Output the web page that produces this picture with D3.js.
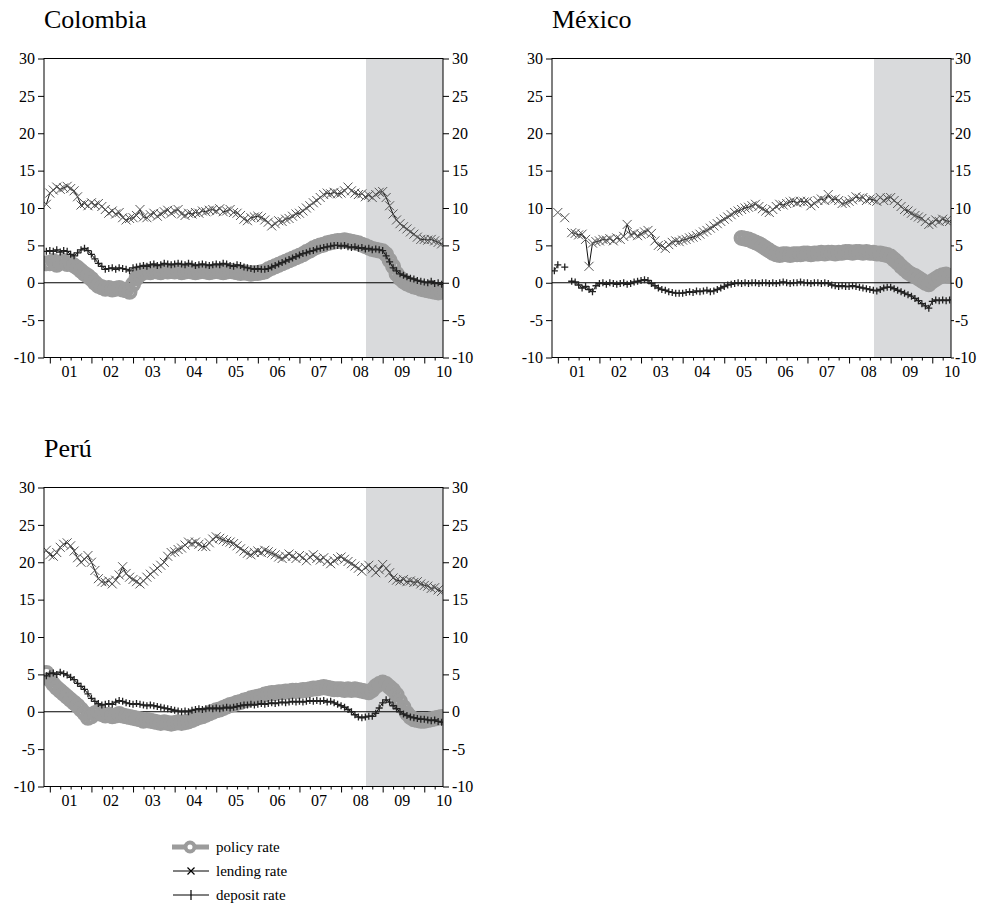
<!DOCTYPE html>
<html>
<head>
<meta charset="utf-8">
<script src="https://cdn.jsdelivr.net/npm/d3@7"></script>
<style>
  body { margin: 0; background: #fff; }
  text { font-family: "Liberation Serif", "Times New Roman", serif; fill: #000; }
</style>
</head>
<body>
<svg id="chart" width="995" height="906"></svg>
<script>
// Monthly observations, December 2000 to June 2010 (115 months), in percent.
const firstMonth = { year: 2000, month: 11 }; // December 2000 (0-based month)

const yearTicks = [2001, 2002, 2003, 2004, 2005, 2006, 2007, 2008, 2009, 2010];
const yearLabels = ["01", "02", "03", "04", "05", "06", "07", "08", "09", "10"];
const yTicks = [30, 25, 20, 15, 10, 5, 0, -5, -10];
const crisisStart = 2008.6;

// Colombia
const colombiaPolicy = [2.6,
  2.6, 2.9, 2.4, 2.7, 2.9, 2.5, 2.6, 2.3, 2.0, 1.6, 1.2, 0.9,
  0.5, 0.0, -0.4, -0.6, -0.8, -0.7, -0.9, -0.8, -0.7, -0.9, -1.0, -1.2,
  -0.2, 0.6, 1.1, 1.4, 1.5, 1.4, 1.6, 1.5, 1.4, 1.6, 1.5, 1.6,
  1.5, 1.6, 1.4, 1.5, 1.6, 1.5, 1.4, 1.5, 1.6, 1.5, 1.4, 1.5,
  1.6, 1.5, 1.4, 1.5, 1.6, 1.5, 1.4, 1.3, 1.4, 1.3, 1.2, 1.3,
  1.3, 1.4, 1.5, 1.8, 2.0, 2.2, 2.4, 2.6, 2.8, 3.0, 3.2, 3.4,
  3.6, 3.8, 4.1, 4.3, 4.6, 4.8, 5.0, 5.1, 5.3, 5.4, 5.5, 5.6,
  5.6, 5.7, 5.6, 5.5, 5.4, 5.3, 5.1, 4.9, 4.7, 4.5, 4.4, 4.3,
  4.2, 3.8, 3.0, 2.2, 1.2, 0.6, 0.2, -0.1, -0.3, -0.5, -0.6, -0.8,
  -0.9, -1.0, -1.1, -1.2, -1.3, -1.2];
const colombiaLending = [10.5,
  12.0, 12.4, 12.8, 12.5, 12.7, 12.9, 12.6, 12.3, 11.5, 10.4, 10.6, 10.3,
  10.7, 10.4, 10.6, 10.2, 9.8, 9.3, 9.6, 9.2, 9.4, 8.7, 8.4, 8.6,
  8.7, 9.0, 9.8, 8.8, 8.7, 9.1, 9.3, 8.9, 9.2, 9.5, 9.7, 9.3,
  9.6, 9.8, 9.2, 9.0, 9.3, 9.2, 9.4, 9.3, 9.6, 9.5, 9.7, 9.8,
  9.6, 9.9, 9.5, 9.6, 9.8, 9.4, 9.3, 9.0, 8.5, 8.3, 8.7, 8.8,
  8.9, 8.7, 8.4, 8.1, 7.6, 7.9, 8.3, 8.2, 8.5, 8.6, 8.9, 9.2,
  9.3, 9.6, 10.0, 10.3, 10.7, 11.0, 11.4, 11.8, 12.0, 11.9, 12.1, 11.9,
  12.0, 12.3, 12.8, 12.3, 12.0, 11.8, 11.9, 11.5, 11.7, 11.4, 11.8, 12.1,
  12.2, 11.4, 10.3, 9.2, 8.4, 7.9, 7.5, 7.2, 6.8, 6.5, 6.1, 5.8,
  5.8, 5.7, 5.8, 5.6, 5.4, 5.2];
const colombiaDeposit = [4.2,
  4.3, 4.2, 4.4, 4.1, 4.3, 4.2, 3.8, 3.6, 4.0, 4.4, 4.6, 4.3,
  3.8, 3.2, 2.6, 2.2, 1.8, 1.9, 2.0, 1.8, 2.0, 1.9, 1.8, 1.6,
  2.0, 2.1, 2.2, 2.3, 2.2, 2.4, 2.5, 2.3, 2.4, 2.6, 2.5, 2.4,
  2.5, 2.6, 2.5, 2.4, 2.6, 2.5, 2.3, 2.4, 2.5, 2.4, 2.3, 2.4,
  2.5, 2.4, 2.6, 2.5, 2.3, 2.2, 2.4, 2.3, 2.1, 2.0, 1.9, 1.8,
  1.9, 1.8, 1.8, 1.9, 2.1, 2.3, 2.5, 2.7, 2.9, 3.1, 3.3, 3.5,
  3.7, 3.9, 4.0, 4.2, 4.3, 4.5, 4.6, 4.7, 4.8, 4.9, 5.0, 5.0,
  4.9, 5.0, 4.8, 4.7, 4.8, 4.6, 4.7, 4.5, 4.6, 4.4, 4.5, 4.4,
  4.3, 3.6, 2.8, 2.0, 1.6, 1.2, 1.0, 0.8, 0.6, 0.5, 0.3, 0.2,
  0.1, 0.0, 0.2, -0.1, 0.0, -0.2];

// México (gaps where no observation was published)
const mexicoPolicy = [null,
  null, null, null, null, null, null, null, null, null, null, null, null,
  null, null, null, null, null, null, null, null, null, null, null, null,
  null, null, null, null, null, null, null, null, null, null, null, null,
  null, null, null, null, null, null, null, null, null, null, null, null,
  null, null, null, null, null, 6.0, 5.9, 5.8, 5.6, 5.4, 5.2, 4.9,
  4.6, 4.3, 4.0, 3.8, 3.7, 3.8, 3.8, 3.7, 3.8, 3.8, 3.8, 3.9,
  3.9, 3.8, 3.9, 3.9, 4.0, 3.9, 4.0, 4.0, 3.9, 4.0, 4.0, 4.1,
  4.1, 4.0, 4.1, 4.1, 4.0, 4.1, 4.0, 4.0, 3.9, 3.9, 3.8, 3.7,
  3.5, 3.1, 2.7, 2.2, 1.8, 1.4, 1.1, 0.9, 0.6, 0.3, 0.0, -0.2,
  0.2, 0.5, 0.8, 1.0, 1.1, 0.9];
const mexicoLending = [null,
  9.4, null, 8.7, null, 6.7, 6.6, 6.4, 6.5, 5.8, 2.2, 5.3, 5.5,
  5.6, 5.8, 5.7, 5.9, 5.6, 6.0, 5.8, 6.2, 7.8, 6.4, 6.6, 6.3,
  6.5, 6.8, 7.0, 6.6, 5.6, 5.0, 4.9, 4.6, 5.1, 5.4, 5.6, 5.5,
  5.7, 5.8, 6.0, 6.1, 6.3, 6.5, 6.8, 7.0, 7.3, 7.6, 7.9, 8.2,
  8.5, 8.8, 9.1, 9.4, 9.6, 9.8, 10.0, 10.1, 10.3, 10.5, 10.2, 9.9,
  9.6, 9.4, 9.8, 10.2, 10.5, 10.4, 10.6, 10.8, 10.9, 10.7, 10.9, 10.8,
  10.9, 10.3, 10.6, 11.0, 11.2, 11.0, 11.8, 11.1, 11.2, 11.0, 10.6, 10.7,
  10.9, 11.1, 11.5, 11.3, 11.4, 11.0, 11.2, 11.1, 10.9, 11.4, 11.0, 11.3,
  11.4, 11.0, 10.6, 10.2, 9.8, 9.6, 9.3, 9.0, 8.8, 8.6, 8.2, 7.8,
  8.0, 8.4, 8.2, 8.5, 8.3, 8.2];
const mexicoDeposit = [1.6,
  2.4, null, 2.1, null, 0.2, 0.1, -0.3, -0.7, -0.5, -0.9, -1.2, -0.4,
  -0.1, 0.0, -0.2, 0.0, -0.1, -0.2, -0.1, 0.0, -0.2, -0.1, 0.1, 0.2,
  0.3, 0.4, 0.3, -0.1, -0.4, -0.7, -0.9, -1.0, -1.2, -1.3, -1.4, -1.4,
  -1.4, -1.3, -1.2, -1.3, -1.1, -1.2, -1.1, -1.0, -1.2, -1.1, -0.9, -0.7,
  -0.5, -0.3, -0.2, -0.1, 0.0, -0.1, 0.0, -0.1, 0.0, 0.0, -0.1, 0.0,
  0.0, -0.1, 0.0, -0.1, 0.0, 0.1, 0.0, -0.1, 0.0, 0.0, 0.1, 0.0,
  0.0, -0.1, 0.0, 0.0, -0.1, 0.0, -0.1, -0.3, -0.4, -0.5, -0.4, -0.5,
  -0.5, -0.4, -0.5, -0.6, -0.7, -0.8, -0.9, -1.0, -1.1, -0.9, -0.7, -0.6,
  -0.6, -0.8, -1.0, -1.2, -1.4, -1.6, -1.8, -2.1, -2.4, -2.8, -3.1, -3.4,
  -2.5, -2.3, -2.4, -2.3, -2.4, -2.3];

// Perú
const peruPolicy = [5.2,
  4.3, 3.7, 3.2, 2.8, 2.4, 2.0, 1.6, 1.2, 0.8, 0.3, -0.2, -0.8,
  -0.6, -0.2, 0.0, -0.3, -0.5, -0.4, -0.6, -0.5, -0.3, -0.5, -0.6, -0.7,
  -0.8, -0.9, -1.0, -1.2, -1.1, -1.2, -1.3, -1.4, -1.5, -1.4, -1.5, -1.6,
  -1.5, -1.4, -1.5, -1.4, -1.3, -1.1, -0.9, -0.7, -0.6, -0.4, -0.2, 0.0,
  0.2, 0.3, 0.5, 0.7, 0.9, 1.0, 1.2, 1.3, 1.5, 1.6, 1.8, 1.9,
  2.0, 2.1, 2.3, 2.4, 2.5, 2.5, 2.6, 2.6, 2.7, 2.7, 2.8, 2.8,
  2.8, 2.9, 2.9, 3.0, 3.1, 3.1, 3.2, 3.3, 3.2, 3.1, 3.0, 3.0,
  3.0, 2.9, 3.0, 2.9, 3.0, 2.9, 2.8, 2.7, 2.6, 2.9, 3.4, 3.7,
  3.9, 3.7, 3.3, 2.9, 2.3, 1.4, 0.6, -0.2, -0.7, -1.0, -1.1, -1.2,
  -1.2, -1.1, -1.0, -0.9, -0.8, -0.7];
const peruLending = [21.6,
  21.0, 20.8, 21.3, 22.0, 22.4, 22.6, 22.2, 21.5, 20.6, 20.0, 20.4, 20.9,
  20.0, 18.9, 17.8, 17.4, 17.3, 17.5, 17.1, 17.6, 18.3, 19.4, 18.5, 18.0,
  17.7, 17.4, 17.1, 17.5, 18.0, 18.4, 18.8, 19.2, 19.6, 20.0, 20.8, 21.3,
  21.4, 21.7, 21.9, 22.3, 22.7, 22.5, 22.7, 22.4, 22.1, 22.1, 22.6, 23.1,
  23.4, 23.2, 23.0, 22.8, 22.7, 22.5, 22.2, 21.8, 21.5, 21.2, 21.0, 21.3,
  21.5, 21.3, 21.6, 21.4, 21.2, 21.0, 20.7, 20.5, 20.8, 21.1, 20.8, 20.5,
  20.9, 20.6, 20.2, 20.7, 21.0, 20.5, 20.3, 20.6, 20.1, 19.8, 20.2, 20.5,
  20.7, 20.4, 20.1, 19.8, 19.5, 19.2, 18.8, 19.3, 19.6, 19.1, 18.6, 19.0,
  19.7, 19.2, 18.6, 17.9, 17.6, 17.5, 17.7, 17.4, 17.5, 17.3, 17.4, 17.1,
  16.9, 16.8, 16.5, 16.6, 16.3, 16.1];
const peruDeposit = [4.8,
  5.1, 5.2, 5.0, 5.3, 5.1, 4.9, 4.6, 4.3, 3.8, 3.4, 3.0, 2.4,
  1.8, 1.4, 1.1, 0.9, 1.0, 1.1, 1.0, 1.3, 1.5, 1.4, 1.2, 1.1,
  1.0, 1.1, 1.0, 0.9, 0.8, 0.9, 0.8, 0.7, 0.6, 0.5, 0.4, 0.3,
  0.2, 0.1, 0.0, 0.1, 0.0, 0.2, 0.3, 0.4, 0.3, 0.4, 0.5, 0.4,
  0.5, 0.4, 0.5, 0.6, 0.5, 0.6, 0.7, 0.8, 0.9, 0.9, 1.0, 0.9,
  1.0, 1.1, 1.0, 1.1, 1.2, 1.1, 1.2, 1.3, 1.2, 1.3, 1.4, 1.3,
  1.4, 1.3, 1.4, 1.5, 1.4, 1.5, 1.4, 1.5, 1.3, 1.4, 1.2, 1.0,
  0.8, 0.6, 0.3, 0.0, -0.4, -0.7, -0.8, -0.7, -0.6, -0.6, -0.2, 0.5,
  1.2, 1.6, 1.3, 0.8, 0.4, 0.0, -0.3, -0.5, -0.7, -0.8, -0.9, -1.0,
  -1.0, -1.1, -1.2, -1.1, -1.3, -1.4];

const seriesNames = ["policy rate", "lending rate", "deposit rate"];

// ---------------------------------------------------------------------------
const SERIF = '"Liberation Serif", "Times New Roman", serif';
const svg = d3.select("#chart");
const panelW = 399, panelH = 299;
const POLICY_GREY = "#9c9c9c";

const x = d3.scaleLinear().domain([2000.86, 2010.45]).range([0, panelW]);
const y = d3.scaleLinear().domain([-10, 30]).range([panelH, 0]);

const toSeries = vals => vals.map((v, i) => ({
  t: firstMonth.year + (firstMonth.month + i) / 12,
  v
}));

const panels = [
  { id: "col", name: "Colombia", left: 44,  top: 58.5,
    policy: colombiaPolicy, lending: colombiaLending, deposit: colombiaDeposit,
    rightTick: 6, rightPad: 3 },
  { id: "mex", name: "México",   left: 552, top: 58.5,
    policy: mexicoPolicy, lending: mexicoLending, deposit: mexicoDeposit,
    rightTick: 3, rightPad: 1 },
  { id: "per", name: "Perú",     left: 44,  top: 487.5,
    policy: peruPolicy, lending: peruLending, deposit: peruDeposit,
    rightTick: 6, rightPad: 3 }
];

const line = d3.line()
  .defined(d => d.v !== null)
  .x(d => x(d.t))
  .y(d => y(d.v));

const defs = svg.append("defs");

panels.forEach(p => {
  const g = svg.append("g").attr("transform", `translate(${p.left},${p.top})`);

  // title
  g.append("text")
    .attr("x", 0).attr("y", -30.5)
    .attr("font-family", SERIF)
    .style("font-size", "26px")
    .text(p.name);

  defs.append("clipPath").attr("id", `clip-${p.id}`)
    .append("rect").attr("width", panelW).attr("height", panelH);

  const plot = g.append("g").attr("clip-path", `url(#clip-${p.id})`);

  // shaded period from the 2008 crisis onward
  plot.append("rect")
    .attr("x", x(crisisStart)).attr("y", 0)
    .attr("width", x.range()[1] - x(crisisStart)).attr("height", panelH)
    .attr("fill", "#d9dadc");

  // zero reference line
  plot.append("line")
    .attr("x1", 0).attr("x2", panelW)
    .attr("y1", y(0)).attr("y2", y(0))
    .attr("stroke", "#000").attr("stroke-width", 1);

  // policy rate: thick grey line with open circles
  const pol = toSeries(p.policy);
  plot.append("path").datum(pol)
    .attr("d", line)
    .attr("fill", "none").attr("stroke", POLICY_GREY)
    .attr("stroke-width", 6).attr("stroke-linejoin", "round");
  plot.append("g").selectAll("circle")
    .data(pol.filter(d => d.v !== null))
    .join("circle")
    .attr("cx", d => x(d.t)).attr("cy", d => y(d.v))
    .attr("r", 6).attr("fill", "none")
    .attr("stroke", POLICY_GREY).attr("stroke-width", 4);

  // lending rate: thin black line with × markers
  const len = toSeries(p.lending);
  plot.append("path").datum(len)
    .attr("d", line)
    .attr("fill", "none").attr("stroke", "#111").attr("stroke-width", 1);
  plot.append("g").selectAll("path")
    .data(len.filter(d => d.v !== null))
    .join("path")
    .attr("transform", d => `translate(${x(d.t)},${y(d.v)})`)
    .attr("d", "M-4.5,-4.5L4.5,4.5M-4.5,4.5L4.5,-4.5")
    .attr("stroke", "#555").attr("stroke-width", 1).attr("fill", "none");

  // deposit rate: thin black line with + markers
  const dep = toSeries(p.deposit);
  plot.append("path").datum(dep)
    .attr("d", line)
    .attr("fill", "none").attr("stroke", "#111").attr("stroke-width", 1);
  plot.append("g").selectAll("path")
    .data(dep.filter(d => d.v !== null))
    .join("path")
    .attr("transform", d => `translate(${x(d.t)},${y(d.v)})`)
    .attr("d", "M-3.5,0L3.5,0M0,-3.5L0,3.5")
    .attr("stroke", "#222").attr("stroke-width", 1.3).attr("fill", "none");

  // frame
  g.append("rect")
    .attr("width", panelW).attr("height", panelH)
    .attr("fill", "none").attr("stroke", "#000").attr("stroke-width", 1);

  const fmt = d => String(d);

  // left and right value axes
  const left = g.append("g")
    .call(d3.axisLeft(y).tickValues(yTicks).tickFormat(fmt)
      .tickSize(6).tickPadding(3).tickSizeOuter(0));
  const right = g.append("g").attr("transform", `translate(${panelW},0)`)
    .call(d3.axisRight(y).tickValues(yTicks).tickFormat(fmt)
      .tickSize(p.rightTick).tickPadding(p.rightPad).tickSizeOuter(0));

  // year ticks (major) and quarter ticks (minor)
  const quarters = [];
  yearTicks.forEach(yr => [0.25, 0.5, 0.75].forEach(q => {
    if (yr + q < x.domain()[1]) quarters.push(yr + q);
  }));
  const major = g.append("g").attr("transform", `translate(0,${panelH})`)
    .call(d3.axisBottom(x).tickValues(yearTicks).tickFormat("")
      .tickSize(6).tickSizeOuter(0));
  const minor = g.append("g").attr("transform", `translate(0,${panelH})`)
    .call(d3.axisBottom(x).tickValues(quarters).tickFormat("")
      .tickSize(3).tickSizeOuter(0));

  // two-digit year labels, centred within each year
  const labels = g.append("g").attr("transform", `translate(0,${panelH})`)
    .call(d3.axisBottom(x).tickValues(yearTicks.map(yr => yr + 0.46))
      .tickFormat((d, i) => yearLabels[i]).tickSize(0).tickSizeOuter(0));
  labels.selectAll("text").attr("y", 19.5).attr("dy", 0);

  [left, right, major, minor, labels].forEach(a => {
    a.attr("font-family", SERIF).attr("font-size", 16);
    a.select(".domain").remove();
    a.selectAll("line").attr("stroke", "#000");
    a.selectAll("text")
      .attr("font-family", SERIF)
      .style("font-family", SERIF)
      .style("font-size", "16px").attr("fill", "#000");
  });
});

// legend
const legend = svg.append("g").attr("transform", "translate(0,847)");
const rowGap = 24;
seriesNames.forEach((name, i) => {
  const row = legend.append("g").attr("transform", `translate(0,${i * rowGap})`);
  if (i === 0) {
    row.append("line").attr("x1", 172).attr("x2", 209).attr("y1", 0).attr("y2", 0)
      .attr("stroke", POLICY_GREY).attr("stroke-width", 5);
    row.append("circle").attr("cx", 190).attr("cy", 0).attr("r", 4.5)
      .attr("fill", "#fff").attr("stroke", POLICY_GREY).attr("stroke-width", 4);
  } else {
    row.append("line").attr("x1", 173).attr("x2", 209).attr("y1", 0).attr("y2", 0)
      .attr("stroke", "#000").attr("stroke-width", 1);
    row.append("path")
      .attr("transform", "translate(191,0)")
      .attr("d", i === 1 ? "M-3.5,-3.5L3.5,3.5M-3.5,3.5L3.5,-3.5" : "M0,-5L0,5")
      .attr("stroke", "#000").attr("stroke-width", 1.2);
  }
  row.append("text").attr("x", 216).attr("y", 5)
    .attr("font-family", SERIF)
    .style("font-size", "15px").text(name);
});
</script>
</body>
</html>
